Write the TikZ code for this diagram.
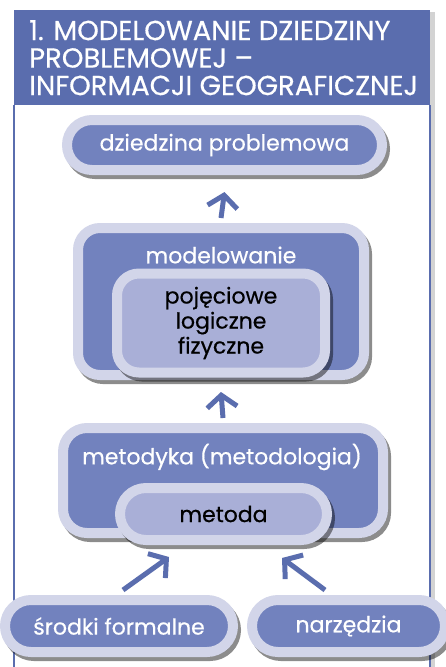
\documentclass[tikz,border=0pt]{standalone}
\usepackage{fontspec}
\setmainfont{Poppins}
\newfontfamily\medfont{Poppins}[FakeBold=0.5]
\usetikzlibrary{arrows.meta,shadows}

\definecolor{hdrblue}{HTML}{5A6DAE}
\definecolor{ringcol}{HTML}{D2D5E9}
\definecolor{boxcol}{HTML}{7282BE}
\definecolor{innercol}{HTML}{A9AFD7}

\tikzset{
  boxfont/.style={font=\medfont\fontsize{22}{25}\selectfont},
  ringbox/.style={draw=ringcol,line width=10pt,fill=boxcol,text=white,inner sep=0pt,boxfont,
    drop shadow={shadow xshift=3pt,shadow yshift=-4pt,opacity=.45,fill=black,draw=black,line width=10pt}},
  lightbox/.style={ringbox,fill=innercol,text=black},
  boxtitle/.style={text=white,inner sep=0pt,boxfont},
  uparrow/.style={draw=hdrblue,line width=5pt,-{Straight Barb[length=12pt,width=30pt]}}
}

\begin{document}
\begin{tikzpicture}[x=1pt,y=-1pt]
\useasboundingbox (0,0) rectangle (445,667);
% ramka z naglowkiem
\path[fill=white,drop shadow={shadow xshift=5pt,shadow yshift=-2pt,opacity=.35}] (14,10) rectangle (430,700);
\fill[hdrblue] (14,10) rectangle (430,105);
\draw[hdrblue,line width=2pt] (14,105) -- (14,700) (430,105) -- (430,700);
\node[anchor=north west,align=left,text=white,inner sep=0pt,font=\medfont\fontsize{27.5}{27.5}\selectfont] (title) at (29,20)
  {1. MODELOWANIE DZIEDZINY\\PROBLEMOWEJ –\\INFORMACJI GEOGRAFICZNEJ};

% bloki
\node[ringbox,minimum width=315pt,minimum height=50pt,rounded corners=25pt] (domain) at (224.5,145) {dziedzina problemowa};
\node[ringbox,minimum width=286pt,minimum height=147pt,rounded corners=22pt] (modeling) at (221,301.5) {};
\node[boxtitle] (modtitle) at (221,255) {modelowanie};
\node[lightbox,minimum width=208pt,minimum height=99pt,rounded corners=22pt,align=center] (kinds) at (221,323) {pojęciowe\\logiczne\\fizyczne};
\node[ringbox,minimum width=320pt,minimum height=105pt,rounded corners=24pt] (methodology) at (223,480.5) {};
\node[boxtitle] (methtitle) at (222,457) {metodyka (metodologia)};
\node[lightbox,minimum width=207pt,minimum height=52pt,rounded corners=26pt] (method) at (223.5,514) {metoda};
\node[ringbox,minimum width=228pt,minimum height=52pt,rounded corners=26pt] (formal) at (119,626) {środki formalne};
\node[ringbox,minimum width=193pt,minimum height=52pt,rounded corners=26pt] (tools) at (348.5,626) {narzędzia};

% strzalki
\draw[uparrow] ([yshift=5pt]modeling.north) -- ([yshift=-17pt]domain.south);
\draw[uparrow] ([yshift=5pt]methodology.north) -- ([yshift=-12pt]modeling.south);
\draw[uparrow] ([xshift=4pt,yshift=5pt]formal.north) -- ([xshift=-54.5pt,yshift=-12pt]method.south);
\draw[uparrow] ([xshift=-23.5pt,yshift=5pt]tools.north) -- ([xshift=58.5pt,yshift=-13pt]method.south);
\end{tikzpicture}
\end{document}
